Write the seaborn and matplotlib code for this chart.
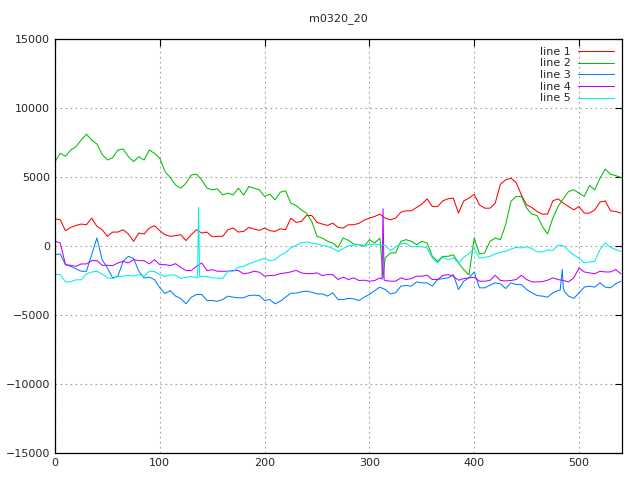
import matplotlib
matplotlib.use("Agg")
import matplotlib.pyplot as plt
import numpy as np
import pandas as pd
import seaborn as sns

# ── data (one value every 5 samples) ──
X = list(range(0, 545, 5))

LINE1 = [1970, 1900, 1110, 1350, 1490, 1590, 1540, 2020, 1420, 1180,
         700, 1010, 1010, 1180, 870, 340, 940, 870, 1300,
         1470, 1110, 820, 700, 750, 820, 390, 820, 1180, 940,
         1010, 670, 700, 700, 1180, 1300, 1010, 1060,
         1350, 1230, 1130, 1300, 1110, 1060, 1250, 1180, 2020, 1710,
         1780, 2210, 2210, 1710, 1590, 1490, 1660, 1350,
         1300, 1540, 1540, 1640, 1880, 2020, 2140, 2310, 2020, 1900,
         2020, 2450, 2550, 2550, 2790, 3030, 3420, 2860,
         2860, 3270, 3420, 3470, 2380, 3270, 3470, 3750, 2980, 2740,
         2740, 3100, 4480, 4790, 4910, 4600, 3700, 2980,
         2790, 2500, 2310, 2310, 3270, 3420, 3100, 2860, 2620, 2860,
         2380, 2380, 2620, 3180, 3270, 2550, 2500, 2380]

LINE2 = [6114, 6716, 6500, 6956, 7200, 7680, 8110, 7680, 7390, 6640,
         6230, 6400, 6956, 7030, 6475, 6114, 6475, 6230, 6956,
         6716, 6355, 5392, 4958, 4430, 4190, 4550, 5150, 5200, 4790,
         4190, 4070, 4140, 3700, 3830, 3700, 4190, 3700,
         4310, 4190, 4070, 3590, 3750, 3350, 3900, 4000, 3100, 2940,
         2620, 2380, 1780, 700, 580, 340, 220, -100,
         580, 410, 140, 100, -20, 460, 220, 580, -870, -500,
         -500, 340, 460, 340, 100, 340, 220, -750,
         -1110, -750, -750, -630, -1230, -1710, -2100, 580, -580, -500,
         340, 580, 460, 1540, 3230, 3590, 3590, 2740,
         2310, 2210, 1420, 870, 2020, 2860, 3420, 3950, 4070, 3830,
         3590, 4380, 4070, 4910, 5580, 5200, 5100, 4960]

LINE3 = [-630, -580, -1350, -1470, -1660, -1830, -1830, -630, 580, -990,
         -1590, -2310, -2190, -1110, -750, -910, -1830, -2310, -2260,
         -2430, -3030, -3440, -3230, -3630, -3800, -4190, -3710, -3510, -3510,
         -3950, -3950, -4000, -3880, -3630, -3710, -3750, -3750,
         -3590, -3560, -3590, -3950, -3880, -4190, -4000, -3710, -3420, -3420,
         -3320, -3270, -3350, -3470, -3470, -3630, -3390, -3880,
         -3880, -3800, -3830, -3950, -3710, -3510, -3230, -2980, -3150, -3470,
         -3390, -2910, -2860, -2910, -2600, -2670, -2670, -2910,
         -2430, -2360, -2310, -2070, -3150, -2550, -2310, -1880, -3030, -3030,
         -2840, -2670, -2740, -3080, -2670, -2790, -2790, -3150,
         -3390, -3590, -3630, -3710, -3390, -3230, -3030, -3630, -3800, -3390,
         -2980, -2910, -2980, -2670, -2980, -3030, -2740, -2550]

LINE4 = [340, 220, -1350, -1400, -1470, -1300, -1300, -1060, -1060, -1400,
         -1400, -1420, -1230, -1110, -1230, -990, -1060, -1060, -1300,
         -990, -1350, -1350, -1420, -1280, -1540, -1780, -1780, -1470, -1230,
         -1780, -1710, -1830, -1830, -1830, -1780, -1780, -2020,
         -1950, -1830, -1900, -2190, -2140, -2120, -2000, -1950, -1880, -1760,
         -1950, -2000, -2000, -1950, -2140, -2070, -2070, -2430,
         -2260, -2430, -2310, -2500, -2480, -2550, -2500, -2310, -2500, -2550,
         -2550, -2310, -2430, -2360, -2190, -2190, -2120, -2430,
         -2430, -2140, -2070, -2190, -2480, -2360, -2310, -2260, -2550, -2550,
         -2500, -2120, -2500, -2530, -2500, -2430, -2120, -2430,
         -2600, -2600, -2580, -2480, -2310, -2430, -2500, -2600, -2310, -1590,
         -1880, -1950, -2020, -1830, -1880, -1880, -1710, -2020]

LINE5 = [-2070, -2070, -2600, -2600, -2450, -2450, -2020, -1880, -1830, -2020,
         -2310, -2360, -2210, -2190, -2120, -2190, -2070, -2190, -1830,
         -1850, -2070, -2210, -2090, -2120, -2360, -2260, -2210, -2310, -2190,
         -2210, -2310, -2330, -2360, -1830, -1830, -1540, -1470,
         -1300, -1160, -1010, -910, -1060, -990, -670, -480, -140, 50,
         220, 290, 220, 140, 50, -20, -190, -390,
         -190, 20, 50, 100, 50, 100, 140, 100, 50, -340,
         -70, 170, 190, -50, -50, -50, -140, -870,
         -1230, -820, -990, -870, -1230, -820, -550, -190, -870, -820,
         -750, -580, -460, -390, -220, -100, -140, -50,
         -190, -430, -430, -290, -310, 50, 20, -340, -670, -870,
         -1230, -1160, -1110, -260, 220, -100, -260, -390]

# single-sample spikes between the 5-step samples
LINE2_SPIKE_X = [313]
LINE2_SPIKE_Y = [-2300]
LINE3_SPIKE_X = [482, 484, 486]
LINE3_SPIKE_Y = [-3200, -1700, -3300]
LINE4_SPIKE_X = [312, 313, 314]
LINE4_SPIKE_Y = [-2400, 2700, -2450]
LINE5_SPIKE_X = [136, 137, 138]
LINE5_SPIKE_Y = [-2300, 2800, -2250]

NAMES = ["line 1", "line 2", "line 3", "line 4", "line 5"]
COLORS = ["#ff0000", "#00c000", "#0080ff", "#c000ff", "#00eeee"]

series = [
    (LINE1, [], []),
    (LINE2, LINE2_SPIKE_X, LINE2_SPIKE_Y),
    (LINE3, LINE3_SPIKE_X, LINE3_SPIKE_Y),
    (LINE4, LINE4_SPIKE_X, LINE4_SPIKE_Y),
    (LINE5, LINE5_SPIKE_X, LINE5_SPIKE_Y),
]

frames = []
for name, (vals, sx, sy) in zip(NAMES, series):
    d = pd.DataFrame({"x": X + sx, "y": vals + sy})
    d["line"] = name
    frames.append(d.sort_values("x"))
df = pd.concat(frames, ignore_index=True)

# ── plot ──
sns.set_style("white")
plt.rcParams["font.family"] = ["DejaVu Sans"]

fig = plt.figure(figsize=(6.4, 4.8), dpi=100)
ax = fig.add_axes([55 / 640, 27 / 480, 567 / 640, 414 / 480])

sns.lineplot(data=df, x="x", y="y", hue="line", hue_order=NAMES,
             palette=COLORS, estimator=None, sort=True, linewidth=0.75,
             legend=False, ax=ax)

ax.set_xlim(0, 541)
ax.set_ylim(-15000, 15000)
ax.set_xticks(range(0, 501, 100))
ax.set_yticks(range(-15000, 15001, 5000))
ax.set_xlabel("")
ax.set_ylabel("")
ax.set_title("m0320_20", fontsize=8, pad=13)

ax.grid(True, color="#a0a0a0", linestyle=(0, (1.5, 3)), linewidth=0.8)
ax.tick_params(direction="in", top=True, right=True, length=5, width=0.8,
               labelsize=8, color="black")
for s in ax.spines.values():
    s.set_color("black")
    s.set_linewidth(0.9)

ax.legend(ax.lines[:5], NAMES, loc="upper right", frameon=False,
          markerfirst=False, fontsize=8, handlelength=3.3,
          labelspacing=0.15, borderaxespad=0.3, handletextpad=0.6)

fig.savefig("out.png", dpi=100)
plt.close(fig)
